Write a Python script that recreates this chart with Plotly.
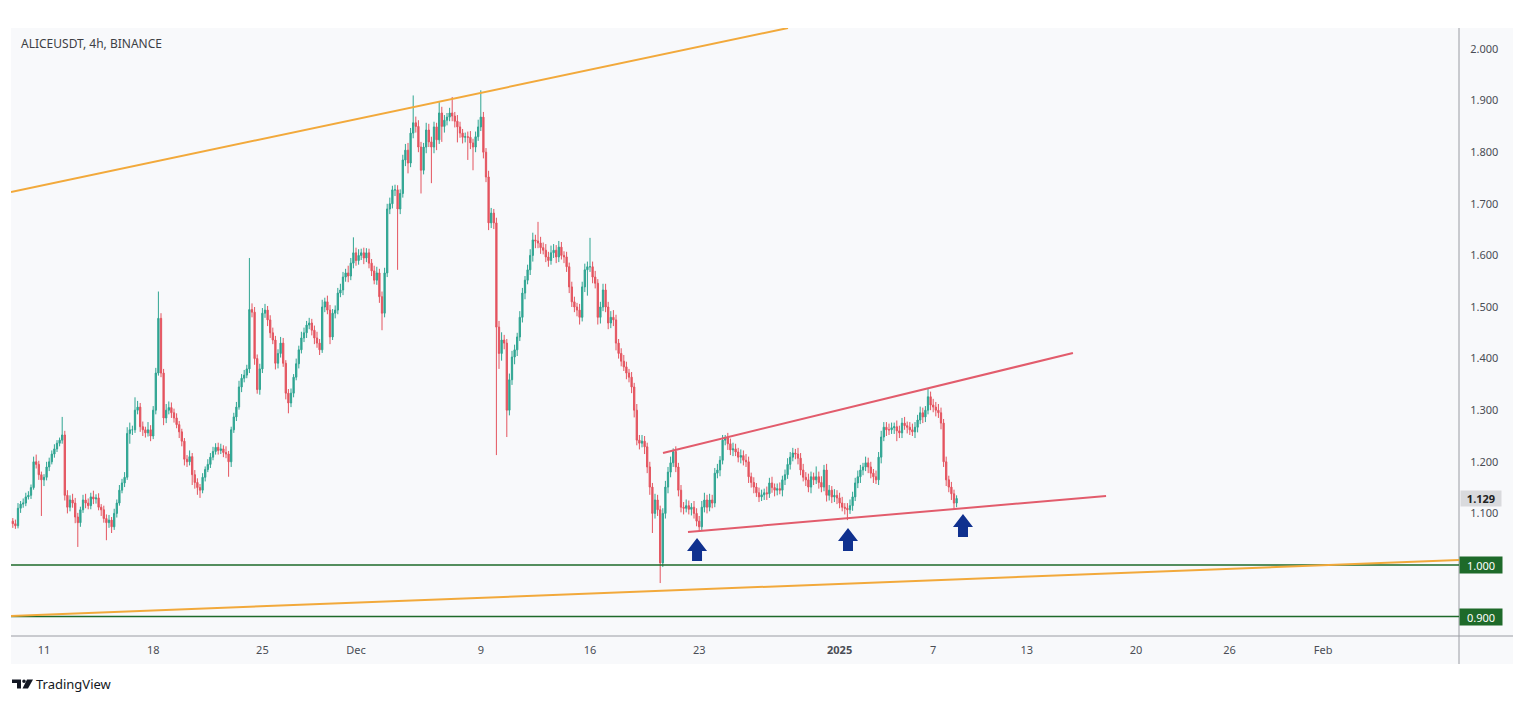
import pandas as pd
import plotly.graph_objects as go

# ---------------- data ----------------
start_time = "2024-11-09 00:00"   # first 4h candle
first_open = 1.085

closes = [
    1.080, 1.076, 1.110, 1.118, 1.120, 1.132,   # Nov 9
    1.135, 1.150, 1.200, 1.195, 1.175, 1.165,   # Nov 10
    1.170, 1.190, 1.200, 1.215, 1.225, 1.236,   # Nov 11
    1.242, 1.252, 1.135, 1.112, 1.126, 1.120,   # Nov 12
    1.093, 1.082, 1.107, 1.126, 1.120, 1.115,   # Nov 13
    1.132, 1.128, 1.130, 1.112, 1.107, 1.090,   # Nov 14
    1.082, 1.087, 1.074, 1.100, 1.120, 1.145,   # Nov 15
    1.159, 1.170, 1.255, 1.262, 1.262, 1.300,   # Nov 16
    1.306, 1.268, 1.262, 1.256, 1.262, 1.250,   # Nov 17
    1.300, 1.372, 1.478, 1.372, 1.285, 1.300,   # Nov 18
    1.305, 1.295, 1.285, 1.272, 1.258, 1.240,   # Nov 19
    1.205, 1.200, 1.210, 1.175, 1.160, 1.150,   # Nov 20
    1.145, 1.170, 1.185, 1.195, 1.209, 1.220,   # Nov 21
    1.228, 1.222, 1.225, 1.218, 1.215, 1.200,   # Nov 22
    1.262, 1.287, 1.306, 1.345, 1.362, 1.368,   # Nov 23
    1.380, 1.495, 1.490, 1.400, 1.340, 1.380,   # Nov 24
    1.488, 1.494, 1.475, 1.450, 1.436, 1.391,   # Nov 25
    1.410, 1.430, 1.391, 1.333, 1.314, 1.333,   # Nov 26
    1.364, 1.390, 1.417, 1.440, 1.450, 1.465,   # Nov 27
    1.469, 1.455, 1.440, 1.430, 1.417, 1.500,   # Nov 28
    1.510, 1.494, 1.442, 1.488, 1.494, 1.527,   # Nov 29
    1.533, 1.558, 1.566, 1.560, 1.585, 1.605,   # Nov 30
    1.590, 1.600, 1.605, 1.595, 1.605, 1.585,   # Dec 1
    1.570, 1.552, 1.566, 1.520, 1.488, 1.566,   # Dec 2
    1.690, 1.700, 1.727, 1.727, 1.690, 1.720,   # Dec 3
    1.785, 1.804, 1.779, 1.837, 1.857, 1.850,   # Dec 4
    1.810, 1.765, 1.810, 1.843, 1.820, 1.810,   # Dec 5
    1.849, 1.824, 1.876, 1.850, 1.862, 1.868,   # Dec 6
    1.876, 1.870, 1.860, 1.849, 1.837, 1.829,   # Dec 7
    1.830, 1.829, 1.818, 1.810, 1.830, 1.849,   # Dec 8
    1.868, 1.800, 1.752, 1.663, 1.682, 1.663,   # Dec 9
    1.461, 1.410, 1.436, 1.430, 1.300, 1.359,   # Dec 10
    1.403, 1.417, 1.442, 1.480, 1.527, 1.552,   # Dec 11
    1.572, 1.600, 1.630, 1.628, 1.624, 1.615,   # Dec 12
    1.610, 1.597, 1.590, 1.605, 1.610, 1.597,   # Dec 13
    1.616, 1.600, 1.597, 1.578, 1.539, 1.510,   # Dec 14
    1.500, 1.494, 1.480, 1.539, 1.572, 1.578,   # Dec 15
    1.578, 1.558, 1.546, 1.480, 1.500, 1.533,   # Dec 16
    1.500, 1.469, 1.480, 1.475, 1.430, 1.410,   # Dec 17
    1.395, 1.384, 1.372, 1.364, 1.345, 1.300,   # Dec 18
    1.242, 1.236, 1.240, 1.229, 1.190, 1.151,   # Dec 19
    1.100, 1.126, 1.107, 1.004, 1.100, 1.151,   # Dec 20
    1.180, 1.198, 1.220, 1.190, 1.145, 1.112,   # Dec 21
    1.110, 1.115, 1.108, 1.112, 1.100, 1.085,   # Dec 22
    1.074, 1.112, 1.126, 1.112, 1.126, 1.120,   # Dec 23
    1.178, 1.184, 1.203, 1.242, 1.246, 1.235,   # Dec 24
    1.223, 1.225, 1.219, 1.209, 1.212, 1.203,   # Dec 25
    1.200, 1.171, 1.160, 1.151, 1.140, 1.132,   # Dec 26
    1.136, 1.140, 1.138, 1.159, 1.150, 1.145,   # Dec 27
    1.148, 1.145, 1.165, 1.175, 1.195, 1.209,   # Dec 28
    1.217, 1.215, 1.207, 1.184, 1.170, 1.165,   # Dec 29
    1.151, 1.171, 1.165, 1.171, 1.160, 1.151,   # Dec 30
    1.184, 1.135, 1.145, 1.132, 1.135, 1.130,   # Dec 31
    1.120, 1.112, 1.110, 1.107, 1.115, 1.132,   # Jan 1
    1.159, 1.171, 1.184, 1.190, 1.198, 1.190,   # Jan 2
    1.178, 1.171, 1.165, 1.209, 1.248, 1.267,   # Jan 3
    1.262, 1.262, 1.266, 1.268, 1.260, 1.256,   # Jan 4
    1.275, 1.270, 1.267, 1.262, 1.258, 1.267,   # Jan 5
    1.281, 1.295, 1.287, 1.300, 1.326, 1.310,   # Jan 6
    1.306, 1.300, 1.295, 1.275, 1.200, 1.165,   # Jan 7
    1.151, 1.138, 1.120, 1.129,                 # Jan 8
]

# wick lengths above / below the candle body, in thousandths of a dollar
upper_wicks = [
    6, 8, 10, 6, 9, 8,    8, 6, 10, 14, 7, 6,    6, 10, 8, 7, 9, 6,    5, 35, 8, 10, 9, 12,
    10, 8, 6, 10, 12, 9,  8, 12, 7, 9, 6, 8,     8, 10, 6, 9, 7, 10,   8, 10, 12, 14, 8, 25,
    12, 8, 10, 6, 15, 9,  8, 10, 52, 10, 8, 12,  12, 10, 8, 9, 7, 6,   6, 8, 12, 7, 9, 8,
    7, 8, 6, 10, 8, 9,    8, 9, 10, 7, 12, 6,    6, 8, 10, 12, 8, 10,  8, 100, 12, 10, 8, 10,
    10, 12, 8, 9, 10, 8,  8, 12, 10, 6, 8, 9,    6, 10, 8, 12, 10, 8,  10, 8, 9, 12, 8, 14,
    8, 12, 10, 8, 9, 10,  12, 10, 8, 14, 10, 30, 10, 12, 8, 10, 9, 8,  8, 10, 12, 8, 10, 10,
    10, 12, 8, 10, 9, 8,  10, 12, 14, 10, 53, 12, 12, 10, 8, 14, 12, 10, 10, 8, 21, 12, 10, 8,
    10, 31, 8, 12, 10, 8, 8, 10, 12, 8, 10, 14,  52, 10, 8, 12, 10, 8, 10, 12, 15, 10, 8, 12,
    12, 10, 8, 12, 10, 8, 10, 12, 14, 10, 37, 12, 10, 12, 10, 14, 12, 10, 12, 10, 8, 10, 8, 10,
    10, 8, 12, 10, 12, 10, 56, 10, 12, 8, 10, 12, 12, 10, 12, 14, 10, 8, 10, 12, 10, 8, 10, 8,
    12, 10, 12, 10, 8, 10, 8, 12, 10, 8, 10, 12,  10, 12, 6, 10, 8, 10, 10, 12, 10, 8, 12, 10,
    10, 12, 14, 10, 12, 10, 10, 12, 8, 10, 6, 10, 10, 12, 10, 8, 12, 10, 12, 10, 8, 10, 8, 10,
    10, 8, 12, 10, 12, 8, 10, 12, 8, 10, 12, 10,  10, 8, 12, 10, 12, 10, 12, 10, 8, 20, 10, 12,
    10, 12, 10, 8, 12, 10, 10, 12, 8, 10, 12, 10, 10, 12, 10, 8, 12, 10, 10, 8, 12, 10, 12, 10,
    10, 12, 10, 8, 12, 10, 10, 12, 8, 10, 12, 10, 10, 12, 10, 8, 16, 10, 12, 10, 12, 10, 8, 10,
    8, 10, 8, 6,
]
lower_wicks = [
    8, 6, 5, 9, 7, 6,     5, 7, 4, 8, 10, 70,    12, 6, 8, 5, 7, 6,    6, 7, 10, 12, 8, 9,
    12, 47, 8, 6, 10, 7,  7, 10, 9, 6, 12, 8,    34, 10, 12, 6, 8, 5,  6, 8, 5, 20, 10, 6,
    8, 10, 12, 9, 7, 10,  6, 8, 5, 8, 14, 10,    8, 10, 9, 7, 12, 10,  12, 10, 7, 20, 12, 14,
    15, 6, 8, 5, 7, 6,    6, 8, 7, 9, 8, 29,     10, 6, 8, 5, 10, 8,   6, 8, 10, 12, 8, 10,
    8, 9, 12, 10, 8, 12,  10, 8, 7, 12, 20, 8,   8, 6, 9, 7, 8, 10,    8, 10, 12, 9, 10, 6,
    10, 8, 14, 6, 10, 8,  8, 10, 9, 12, 8, 10,   10, 8, 9, 12, 8, 10,  10, 8, 9, 12, 33, 8,
    8, 10, 9, 12, 118, 10, 8, 12, 20, 8, 10, 12, 10, 45, 8, 12, 10, 70, 12, 20, 8, 30, 12, 10,
    8, 10, 12, 30, 9, 12, 10, 44, 12, 45, 10, 8,  8, 12, 10, 14, 10, 12, 248, 30, 14, 12, 52, 10,
    10, 14, 12, 8, 10, 12, 8, 10, 12, 14, 10, 12, 8, 10, 12, 8, 10, 12, 10, 8, 12, 10, 12, 10,
    10, 12, 14, 8, 10, 50, 10, 12, 10, 14, 12, 8, 10, 12, 10, 12, 14, 10, 10, 8, 12, 10, 12, 14,
    10, 12, 8, 14, 12, 15, 38, 10, 12, 39, 8, 10, 12, 10, 8, 10, 12, 10, 12, 8, 10, 12, 10, 10,
    10, 8, 10, 12, 8, 10,  8, 10, 12, 8, 10, 12,  10, 12, 8, 10, 12, 10, 10, 12, 10, 12, 8, 10,
    8, 10, 12, 8, 10, 12,  10, 8, 12, 10, 8, 10,  8, 10, 12, 10, 8, 12, 10, 12, 10, 8, 12, 10,
    8, 12, 10, 12, 10, 12, 10, 8, 12, 20, 8, 10,  8, 10, 12, 10, 8, 12, 10, 12, 8, 10, 12, 8,
    12, 10, 8, 12, 20, 10, 10, 8, 12, 10, 8, 12,  10, 8, 12, 10, 8, 10, 10, 12, 10, 12, 10, 12,
    10, 12, 13, 8,
]

tick_dates = ["2024-11-11", "2024-11-18", "2024-11-25", "2024-12-01", "2024-12-09",
              "2024-12-16", "2024-12-23", "2025-01-01", "2025-01-07", "2025-01-13",
              "2025-01-20", "2025-01-26", "2025-02-01"]
tick_labels = ["11", "18", "25", "Dec", "9", "16", "23", "<b>2025</b>", "7", "13",
               "20", "26", "Feb"]
price_ticks = [1.1, 1.2, 1.3, 1.4, 1.5, 1.6, 1.7, 1.8, 1.9, 2.0]

level_prices = [1.000, 0.900]
last_price = 1.129

upper_trend_line = [("2024-11-08 21:14", 1.7229), ("2024-12-28 16:36", 2.0407)]
lower_trend_line = [("2024-11-08 21:14", 0.9012), ("2025-02-09 16:55", 1.0097)]
channel_top = [("2024-12-20 16:18", 1.2171), ("2025-01-15 23:00", 1.4109)]
channel_bottom = [("2024-12-22 06:43", 1.0640), ("2025-01-18 01:55", 1.1337)]
arrow_tips = [("2024-12-22 20:40", 1.0523), ("2025-01-01 12:55", 1.0717),
              ("2025-01-08 21:50", 1.0988)]

x_range = ["2024-11-08 21:14", "2025-02-09 16:55"]
y_range = [0.8624, 2.0407]

# ---------------- styles ----------------
UP = "#2fa592"
DOWN = "#e4545f"
ORANGE = "#f2a93b"
PINK = "#e25c6c"
GREEN = "#1e6a2a"
NAVY = "#10318f"
PANEL = "#f8f9fb"
SEP = "#9a9ca3"
FONT = "Noto Sans"

W, H = 1524, 702
L, R, T, B = 11, 1459, 28, 636  # plot area in pixels

times = pd.date_range(start_time, periods=len(closes), freq="4h")
opens = [first_open] + closes[:-1]
highs = [max(o, c) + u / 1000 for o, c, u in zip(opens, closes, upper_wicks)]
lows = [min(o, c) - lw / 1000 for o, c, lw in zip(opens, closes, lower_wicks)]

fig = go.Figure(go.Candlestick(
    x=times, open=opens, high=highs, low=lows, close=closes,
    increasing=dict(line=dict(color=UP, width=1), fillcolor=UP),
    decreasing=dict(line=dict(color=DOWN, width=1), fillcolor=DOWN),
    whiskerwidth=0, showlegend=False, hoverinfo="skip",
))

pw, ph = R - L, B - T
panel_right = (1513 - L) / pw
panel_bottom = (B - 664) / ph

shapes = [
    dict(type="rect", xref="paper", yref="paper", x0=0, x1=panel_right,
         y0=panel_bottom, y1=1, fillcolor=PANEL, line=dict(width=0), layer="below"),
    dict(type="line", xref="paper", yref="paper", x0=1, x1=1, y0=panel_bottom, y1=1,
         line=dict(color=SEP, width=1)),
    dict(type="line", xref="paper", yref="paper", x0=0, x1=panel_right, y0=0, y1=0,
         line=dict(color=SEP, width=1)),
]
for lvl in level_prices:
    shapes.append(dict(type="line", xref="paper", yref="y", x0=0, x1=1, y0=lvl, y1=lvl,
                       line=dict(color=GREEN, width=1.5)))
for seg, col in [(upper_trend_line, ORANGE), (lower_trend_line, ORANGE),
                 (channel_top, PINK), (channel_bottom, PINK)]:
    (xa, ya), (xb, yb) = seg
    shapes.append(dict(type="line", xref="x", yref="y", x0=xa, y0=ya, x1=xb, y1=yb,
                       line=dict(color=col, width=2)))
arrow_path = "M0,0 L10,-13 L5,-13 L5,-23 L-5,-23 L-5,-13 L-10,-13 Z"
for xa, ya in arrow_tips:
    shapes.append(dict(type="path", xref="x", yref="y", xsizemode="pixel",
                       ysizemode="pixel", xanchor=xa, yanchor=ya, path=arrow_path,
                       fillcolor=NAVY, line=dict(width=0)))

# TradingView logo (small glyph), positioned in pixels from an anchor under the chart
logo_x, logo_y = (12 - L) / pw, (B - 684) / ph
logo_parts = [
    "M0,4.5 L9,4.5 L9,-4.5 L5,-4.5 L5,1 L0,1 Z",
    "M15,4.5 L21,4.5 L16,-4.5 L10.5,-4.5 Z",
]
for p in logo_parts:
    shapes.append(dict(type="path", xref="paper", yref="paper", xsizemode="pixel",
                       ysizemode="pixel", xanchor=logo_x, yanchor=logo_y, path=p,
                       fillcolor="#131722", line=dict(width=0)))
shapes.append(dict(type="circle", xref="paper", yref="paper", xsizemode="pixel",
                   ysizemode="pixel", xanchor=logo_x, yanchor=logo_y,
                   x0=10.2, x1=13.8, y0=1.0, y1=4.6, fillcolor="#131722",
                   line=dict(width=0)))

annotations = [
    dict(text="ALICEUSDT, 4h, BINANCE", xref="paper", yref="paper",
         x=(19 - L) / pw, y=(B - 44) / ph, xanchor="left", yanchor="middle",
         showarrow=False, font=dict(family=FONT, size=12, color="#3d3f45")),
    dict(text="TradingView", xref="paper", yref="paper", x=(34 - L) / pw, y=(B - 684) / ph,
         xanchor="left", yanchor="middle", showarrow=False,
         font=dict(family=FONT, size=13, color="#131722")),
    dict(text="<b>%.3f</b>" % last_price, xref="paper", yref="y", x=1, y=last_price,
         xanchor="left", yanchor="middle", xshift=1, showarrow=False, width=38, height=13,
         bgcolor="#d9dadd", font=dict(family=FONT, size=11, color="#222222")),
]
for lvl in level_prices:
    annotations.append(dict(text="%.3f" % lvl, xref="paper", yref="y", x=1, y=lvl,
                            xanchor="left", yanchor="middle", showarrow=False,
                            width=40, height=14, bgcolor=GREEN,
                            font=dict(family=FONT, size=11, color="#ffffff")))

fig.update_layout(
    width=W, height=H,
    margin=dict(l=L, r=W - R, t=T, b=H - B, pad=0),
    paper_bgcolor="#ffffff", plot_bgcolor=PANEL,
    font=dict(family=FONT, size=11, color="#555862"),
    shapes=shapes, annotations=annotations,
    xaxis=dict(type="date", range=x_range, tickvals=tick_dates, ticktext=tick_labels,
               showgrid=False, zeroline=False, showline=False,
               rangeslider=dict(visible=False), automargin=False,
               ticks="outside", ticklen=4, tickcolor="rgba(0,0,0,0)",
               tickfont=dict(family=FONT, size=11, color="#4a4d55")),
    yaxis=dict(range=y_range, side="right", tickvals=price_ticks,
               ticktext=["%.3f" % v for v in price_ticks],
               showgrid=False, zeroline=False, showline=False, automargin=False,
               ticks="outside", ticklen=8, tickcolor="rgba(0,0,0,0)",
               tickfont=dict(family=FONT, size=11, color="#4a4d55")),
)

fig.write_html("out.html")
